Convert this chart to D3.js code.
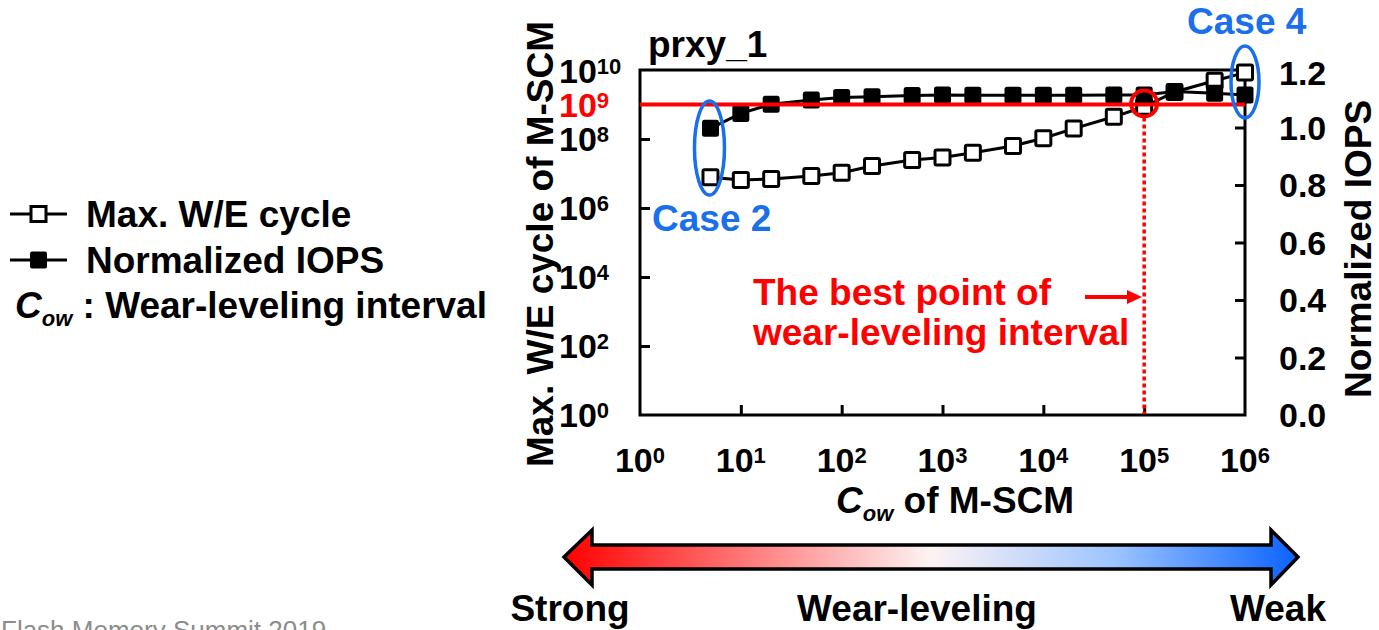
<!DOCTYPE html>
<html><head><meta charset="utf-8">
<script src="https://cdn.jsdelivr.net/npm/d3@7"></script>
<style>
body{margin:0;background:#fff;}
svg{display:block;}
text{font-family:"Liberation Sans",Arial,sans-serif;font-weight:bold;}
</style>
</head><body>
<svg id="c" width="1379" height="630"></svg>
<script>
// ---- data ----
const cow = [5, 10, 20, 50, 100, 200, 500, 1000, 2000, 5000, 10000, 20000, 50000, 100000, 200000, 500000, 1000000];
const maxWE = [7.8e6, 6.5e6, 6.9e6, 8.5e6, 1.05e7, 1.65e7, 2.45e7, 2.9e7, 4.0e7, 6.3e7, 1.05e8, 2.0e8, 4.4e8, 8.6e8, 2.3e9, 4.9e9, 8.4e9];
const iops = [0.997, 1.049, 1.081, 1.096, 1.104, 1.107, 1.111, 1.113, 1.112, 1.112, 1.112, 1.112, 1.113, 1.113, 1.125, 1.119, 1.113];
const xTickVals = [1, 10, 100, 1000, 10000, 100000, 1000000];
const xTickExp = ["0", "1", "2", "3", "4", "5", "6"];
const yLeftTickVals = [1, 1e2, 1e4, 1e6, 1e8, 1e9, 1e10];
const yLeftTickExp = ["0", "2", "4", "6", "8", "9", "10"];
const yRightTickVals = [0, 0.2, 0.4, 0.6, 0.8, 1.0, 1.2];
const yRightTickLabels = ["0.0", "0.2", "0.4", "0.6", "0.8", "1.0", "1.2"];
const bestPoint = 100000;
const refLevel = 1e9;
const case2 = 5, case4 = 1000000;

const svg = d3.select("#c");
const x = d3.scaleLog().domain([1, 1e6]).range([640, 1245]);
const yL = d3.scaleLog().domain([1, 1e10]).range([415, 70]);
const yR = d3.scaleLinear().domain([0, 1.2]).range([415, 70]);
const RED = "#ff0000", BLUE = "#1a6fea";

// ---- axes ticks (inward) ----
function styleAxis(g){ g.select(".domain").remove(); g.selectAll(".tick line").attr("stroke","#000").attr("stroke-width",3); g.selectAll(".tick text").remove(); }
svg.append("g").attr("transform","translate(640,0)")
  .call(d3.axisLeft(yL).tickValues([1e2,1e4,1e6,1e8]).tickSize(-10).tickFormat(""))
  .call(styleAxis);
svg.append("g").attr("transform","translate(1245,0)")
  .call(d3.axisRight(yR).tickValues([0.2,0.4,0.6,0.8,1.0]).tickSize(-10).tickFormat(""))
  .call(styleAxis);
svg.append("g").attr("transform","translate(0,415)")
  .call(d3.axisBottom(x).tickValues([10,100,1000,10000,100000]).tickSize(-10).tickFormat(""))
  .call(styleAxis);

// frame
svg.append("rect").attr("x",640).attr("y",70).attr("width",605).attr("height",345)
  .attr("fill","none").attr("stroke","#000").attr("stroke-width",3);

// ---- tick labels ----
xTickVals.forEach((v,i)=>{
  const t = svg.append("text").attr("x", x(v)).attr("y", 472).attr("text-anchor","middle").attr("font-size",34);
  t.append("tspan").text("10");
  t.append("tspan").attr("font-size",22).attr("dy",-9).text(xTickExp[i]);
});
yLeftTickVals.forEach((v,i)=>{
  const off = v === 1e10 ? 13 : 12;
  const t = svg.append("text").attr("x", 559).attr("y", yL(v)+off).attr("font-size",34)
    .attr("fill", v === refLevel ? RED : "#000");
  t.append("tspan").text("10");
  t.append("tspan").attr("font-size",22).attr("dy",-9).text(yLeftTickExp[i]);
});
yRightTickVals.forEach((v,i)=>{
  svg.append("text").attr("x",1279).attr("y", yR(v)+12 + (i===6?3:0)).attr("font-size",34).text(yRightTickLabels[i]);
});

// axis titles
svg.append("text").attr("transform","translate(553,244) rotate(-90)").attr("text-anchor","middle")
  .attr("font-size",37).text("Max. W/E cycle of M-SCM");
svg.append("text").attr("transform","translate(1371,249) rotate(-90)").attr("text-anchor","middle")
  .attr("font-size",37).text("Normalized IOPS");
{
  const t = svg.append("text").attr("x",836).attr("y",513).attr("font-size",37);
  t.append("tspan").attr("font-style","italic").text("C");
  t.append("tspan").attr("font-style","italic").attr("font-size",22).attr("dy",8).text("ow");
  t.append("tspan").attr("dy",-8).text(" of M-SCM");
}
svg.append("text").attr("x",648).attr("y",57).attr("font-size",37).text("prxy_1");

// ---- series ----
const dataWE = cow.map((c,i)=>({c, v:maxWE[i]}));
const dataIO = cow.map((c,i)=>({c, v:iops[i]}));
svg.append("path").datum(dataWE).attr("fill","none").attr("stroke","#000").attr("stroke-width",3)
  .attr("d", d3.line().x(d=>x(d.c)).y(d=>yL(d.v)));
svg.selectAll(".we").data(dataWE).enter().append("rect").attr("class","we")
  .attr("x",d=>x(d.c)-7.5).attr("y",d=>yL(d.v)-7.5).attr("width",15).attr("height",15).attr("rx",1.5)
  .attr("fill","#fff").attr("stroke","#000").attr("stroke-width",3);
svg.append("path").datum(dataIO).attr("fill","none").attr("stroke","#000").attr("stroke-width",3)
  .attr("d", d3.line().x(d=>x(d.c)).y(d=>yR(d.v)));
svg.selectAll(".io").data(dataIO).enter().append("rect").attr("class","io")
  .attr("x",d=>x(d.c)-8.5).attr("y",d=>yR(d.v)-8.5).attr("width",17).attr("height",17).attr("rx",2.5)
  .attr("fill","#000");

// ---- annotations ----
svg.append("line").attr("x1",640).attr("x2",1245).attr("y1",yL(refLevel)).attr("y2",yL(refLevel))
  .attr("stroke",RED).attr("stroke-width",4);
const bx = x(bestPoint);
svg.append("line").attr("x1",bx).attr("x2",bx).attr("y1",yL(refLevel)+13).attr("y2",414)
  .attr("stroke",RED).attr("stroke-width",3.5).attr("stroke-dasharray","4,3");
svg.append("circle").attr("cx",bx).attr("cy",yL(refLevel)-1).attr("r",13)
  .attr("fill","none").attr("stroke",RED).attr("stroke-width",4);
svg.append("ellipse").attr("cx",x(case2)-1).attr("cy",148).attr("rx",15).attr("ry",47)
  .attr("fill","none").attr("stroke",BLUE).attr("stroke-width",3.5);
svg.append("ellipse").attr("cx",x(case4)).attr("cy",82).attr("rx",14).attr("ry",36)
  .attr("fill","none").attr("stroke",BLUE).attr("stroke-width",3.5);
svg.append("text").attr("x",652).attr("y",231).attr("font-size",37).attr("fill",BLUE).text("Case 2");
svg.append("text").attr("x",1187).attr("y",34).attr("font-size",37).attr("fill",BLUE).text("Case 4");

svg.append("text").attr("x",753).attr("y",305).attr("font-size",37).attr("fill",RED).text("The best point of");
svg.append("text").attr("x",753).attr("y",345).attr("font-size",37).attr("fill",RED).text("wear-leveling interval");
svg.append("line").attr("x1",1085).attr("x2",1130).attr("y1",297).attr("y2",297).attr("stroke",RED).attr("stroke-width",4);
svg.append("path").attr("d","M1127,290 L1142,297 L1127,304 Z").attr("fill",RED);

// ---- legend ----
svg.append("line").attr("x1",10).attr("x2",67).attr("y1",214).attr("y2",214).attr("stroke","#000").attr("stroke-width",3);
svg.append("rect").attr("x",31).attr("y",206.5).attr("width",15).attr("height",15).attr("fill","#fff").attr("stroke","#000").attr("stroke-width",3);
svg.append("text").attr("x",86).attr("y",227).attr("font-size",37).text("Max. W/E cycle");
svg.append("line").attr("x1",10).attr("x2",67).attr("y1",260).attr("y2",260).attr("stroke","#000").attr("stroke-width",3);
svg.append("rect").attr("x",30).attr("y",251.5).attr("width",17).attr("height",17).attr("rx",2).attr("fill","#000");
svg.append("text").attr("x",86).attr("y",273).attr("font-size",37).text("Normalized IOPS");
{
  const t = svg.append("text").attr("x",15).attr("y",318).attr("font-size",37);
  t.append("tspan").attr("font-style","italic").text("C");
  t.append("tspan").attr("font-style","italic").attr("font-size",22).attr("dy",8).text("ow");
  t.append("tspan").attr("dy",-8).text(" : Wear-leveling interval");
}

// ---- gradient arrow ----
const defs = svg.append("defs");
const grad = defs.append("linearGradient").attr("id","wl").attr("gradientUnits","userSpaceOnUse")
  .attr("x1",564).attr("x2",1298).attr("y1",0).attr("y2",0);
[[0,"#ff0000"],[0.25,"#ff7a7a"],[0.5,"#fdf3f3"],[0.75,"#9cc4ff"],[1,"#0a62ff"]]
  .forEach(([o,c])=>grad.append("stop").attr("offset",o).attr("stop-color",c));
svg.append("path")
  .attr("d","M564,557 L592,530 L592,545 L1271,545 L1271,530 L1298,557 L1271,585 L1271,569 L592,569 L592,585 Z")
  .attr("fill","url(#wl)").attr("stroke","#000").attr("stroke-width",3.5).attr("stroke-linejoin","miter");
svg.append("text").attr("x",570).attr("y",621).attr("text-anchor","middle").attr("font-size",37).text("Strong");
svg.append("text").attr("x",917).attr("y",621).attr("text-anchor","middle").attr("font-size",37).text("Wear-leveling");
svg.append("text").attr("x",1278).attr("y",621).attr("text-anchor","middle").attr("font-size",37).text("Weak");

svg.append("text").attr("x",1).attr("y",639).attr("font-size",26)
  .style("font-weight","normal").attr("fill","#8c8c8c").text("Flash Memory Summit 2019");
</script>
</body></html>
